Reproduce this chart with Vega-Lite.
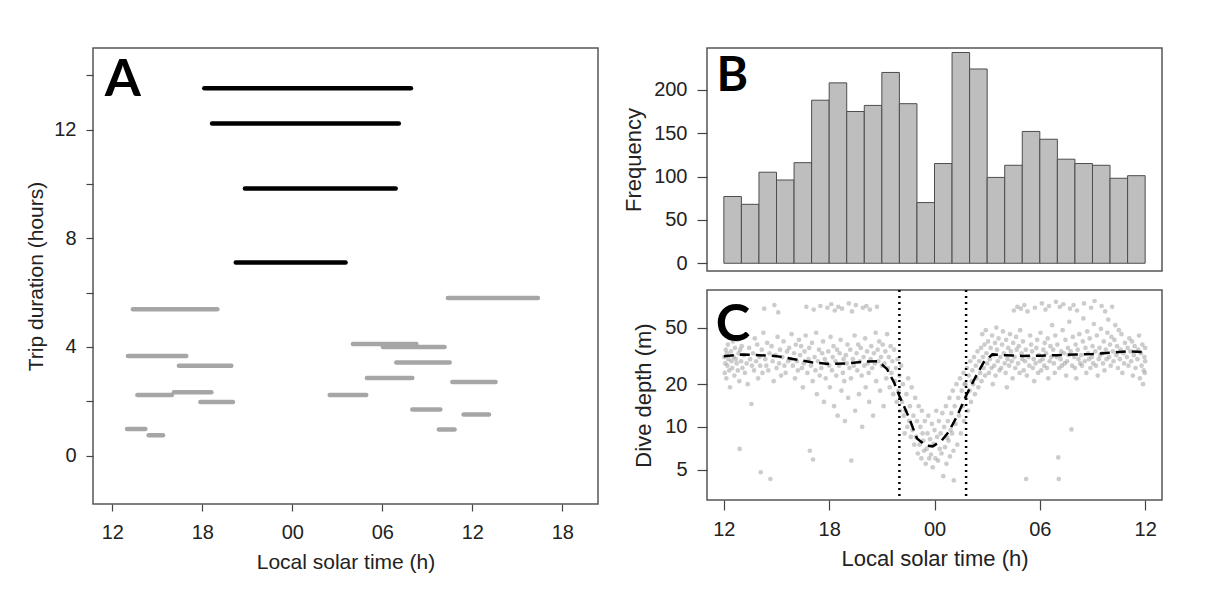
{
  "$schema": "https://vega.github.io/schema/vega-lite/v6.json",
  "background": "white",
  "padding": {"left": 25, "top": 47, "right": 5, "bottom": 5},
  "bounds": "flush",
  "spacing": 109,
  "config": {
    "view": {"stroke": "#555555", "strokeWidth": 1.5},
    "axis": {"grid": false, "domain": false, "tickColor": "#444444", "tickWidth": 1.2, "labelFont": "Liberation Sans", "titleFont": "Liberation Sans", "labelColor": "#222222", "titleColor": "#222222", "titleFontWeight": "normal", "labelFontSize": 20, "titleFontSize": 21, "labelFlush": false, "labelOverlap": false}
  },
  "datasets": {
    "one": [{}],
    "trips": [
      {"start": 18.13, "end": 31.91, "dur": 13.52, "type": "long"},
      {"start": 18.65, "end": 31.1, "dur": 12.22, "type": "long"},
      {"start": 20.84, "end": 30.89, "dur": 9.83, "type": "long"},
      {"start": 20.23, "end": 27.55, "dur": 7.11, "type": "long"},
      {"start": 13.37, "end": 19.0, "dur": 5.39, "type": "short"},
      {"start": 34.37, "end": 40.37, "dur": 5.8, "type": "short"},
      {"start": 13.04, "end": 16.93, "dur": 3.67, "type": "short"},
      {"start": 16.44, "end": 19.93, "dur": 3.31, "type": "short"},
      {"start": 13.67, "end": 15.97, "dur": 2.23, "type": "short"},
      {"start": 16.11, "end": 18.6, "dur": 2.33, "type": "short"},
      {"start": 17.87, "end": 20.04, "dur": 1.97, "type": "short"},
      {"start": 12.98, "end": 14.2, "dur": 0.98, "type": "short"},
      {"start": 14.42, "end": 15.38, "dur": 0.75, "type": "short"},
      {"start": 28.04, "end": 32.27, "dur": 4.11, "type": "short"},
      {"start": 30.04, "end": 34.15, "dur": 4.0, "type": "short"},
      {"start": 30.93, "end": 34.49, "dur": 3.43, "type": "short"},
      {"start": 28.97, "end": 32.0, "dur": 2.86, "type": "short"},
      {"start": 34.67, "end": 37.55, "dur": 2.71, "type": "short"},
      {"start": 26.49, "end": 28.93, "dur": 2.23, "type": "short"},
      {"start": 32.0, "end": 33.87, "dur": 1.7, "type": "short"},
      {"start": 35.42, "end": 37.11, "dur": 1.51, "type": "short"},
      {"start": 33.77, "end": 34.82, "dur": 0.96, "type": "short"}
    ],
    "bars": [
      {"start": 12, "end": 13, "count": 77}, {"start": 13, "end": 14, "count": 68},
      {"start": 14, "end": 15, "count": 105}, {"start": 15, "end": 16, "count": 96},
      {"start": 16, "end": 17, "count": 116}, {"start": 17, "end": 18, "count": 188},
      {"start": 18, "end": 19, "count": 208}, {"start": 19, "end": 20, "count": 175},
      {"start": 20, "end": 21, "count": 182}, {"start": 21, "end": 22, "count": 220},
      {"start": 22, "end": 23, "count": 184}, {"start": 23, "end": 24, "count": 70},
      {"start": 24, "end": 25, "count": 115}, {"start": 25, "end": 26, "count": 243},
      {"start": 26, "end": 27, "count": 224}, {"start": 27, "end": 28, "count": 99},
      {"start": 28, "end": 29, "count": 113}, {"start": 29, "end": 30, "count": 152},
      {"start": 30, "end": 31, "count": 143}, {"start": 31, "end": 32, "count": 120},
      {"start": 32, "end": 33, "count": 115}, {"start": 33, "end": 34, "count": 113},
      {"start": 34, "end": 35, "count": 98}, {"start": 35, "end": 36, "count": 101}
    ],
    "curve": [
      {"t": 12, "d": 31.5}, {"t": 13, "d": 32.3}, {"t": 14, "d": 32.0}, {"t": 15, "d": 31.5},
      {"t": 16, "d": 30.0}, {"t": 17, "d": 28.5}, {"t": 18, "d": 27.7}, {"t": 19, "d": 28.0},
      {"t": 20, "d": 28.8}, {"t": 20.8, "d": 29.0}, {"t": 21.3, "d": 25.5}, {"t": 21.7, "d": 20.5},
      {"t": 22.0, "d": 16.5}, {"t": 22.5, "d": 12.0}, {"t": 23.0, "d": 8.3}, {"t": 23.5, "d": 7.4},
      {"t": 23.9, "d": 7.3}, {"t": 24.4, "d": 8.0}, {"t": 24.8, "d": 9.2}, {"t": 25.3, "d": 12.0},
      {"t": 25.8, "d": 16.6}, {"t": 26.3, "d": 22.0}, {"t": 26.8, "d": 28.5}, {"t": 27.3, "d": 32.4},
      {"t": 28, "d": 32.0}, {"t": 29, "d": 31.6}, {"t": 30, "d": 31.7}, {"t": 31, "d": 32.0},
      {"t": 32, "d": 32.3}, {"t": 33, "d": 32.6}, {"t": 34, "d": 33.3}, {"t": 35, "d": 34.0},
      {"t": 35.9, "d": 33.6}
    ],
    "night": [{"t": 22.0}, {"t": 25.8}],
    "pts": [
      {"t":12.02,"d":31},{"t":12.05,"d":24},{"t":12.08,"d":28},{"t":12.11,"d":35},{"t":12.14,"d":22},{"t":12.17,"d":33},
      {"t":12.2,"d":27},{"t":12.23,"d":38},{"t":12.26,"d":30},{"t":12.31,"d":25},{"t":12.35,"d":19},{"t":12.4,"d":34},
      {"t":12.44,"d":29},{"t":12.48,"d":26},{"t":12.52,"d":40},{"t":12.55,"d":31},{"t":12.6,"d":23},{"t":12.63,"d":36},
      {"t":12.68,"d":30},{"t":12.73,"d":28},{"t":12.77,"d":41},{"t":12.8,"d":25},{"t":12.84,"d":33},{"t":12.88,"d":21},
      {"t":12.9,"d":7},{"t":12.93,"d":35},{"t":12.98,"d":29},{"t":13.02,"d":37},{"t":13.06,"d":26},{"t":13.15,"d":32},
      {"t":13.2,"d":24},{"t":13.24,"d":44},{"t":13.3,"d":28},{"t":13.36,"d":20},{"t":13.44,"d":36},{"t":13.5,"d":30},
      {"t":13.57,"d":14.5},{"t":13.6,"d":27},{"t":13.66,"d":33},{"t":13.72,"d":25},{"t":13.76,"d":42},{"t":13.84,"d":29},
      {"t":13.9,"d":38},{"t":13.95,"d":22},{"t":14.02,"d":31},{"t":14.07,"d":27},{"t":14.1,"d":4.8},{"t":14.16,"d":35},
      {"t":14.2,"d":24},{"t":14.25,"d":46},{"t":14.3,"d":68},{"t":14.36,"d":30},{"t":14.42,"d":27},{"t":14.47,"d":39},
      {"t":14.53,"d":25},{"t":14.6,"d":33},{"t":14.65,"d":4.3},{"t":14.72,"d":37},{"t":14.78,"d":29},{"t":14.84,"d":21},
      {"t":14.88,"d":72},{"t":14.95,"d":32},{"t":15.0,"d":26},{"t":15.06,"d":43},{"t":15.1,"d":64},{"t":15.15,"d":28},
      {"t":15.2,"d":35},{"t":15.26,"d":23},{"t":15.33,"d":31},{"t":15.4,"d":40},{"t":15.45,"d":27},{"t":15.52,"d":24},
      {"t":15.6,"d":34},{"t":15.66,"d":29},{"t":15.72,"d":36},{"t":15.8,"d":30},{"t":15.86,"d":45},{"t":15.93,"d":27},
      {"t":16.0,"d":33},{"t":16.05,"d":22},{"t":16.1,"d":38},{"t":16.16,"d":29},{"t":16.22,"d":25},{"t":16.28,"d":41},
      {"t":16.34,"d":32},{"t":16.4,"d":37},{"t":16.45,"d":26},{"t":16.5,"d":19},{"t":16.55,"d":28},{"t":16.6,"d":34},
      {"t":16.66,"d":44},{"t":16.7,"d":70},{"t":16.76,"d":24},{"t":16.82,"d":30},{"t":16.86,"d":36},{"t":16.9,"d":6.8},
      {"t":16.96,"d":27},{"t":17.02,"d":39},{"t":17.06,"d":21},{"t":17.08,"d":5.9},{"t":17.12,"d":67},{"t":17.17,"d":31},
      {"t":17.22,"d":25},{"t":17.26,"d":46},{"t":17.3,"d":17},{"t":17.36,"d":29},{"t":17.42,"d":35},{"t":17.46,"d":23},
      {"t":17.5,"d":71},{"t":17.55,"d":26},{"t":17.6,"d":33},{"t":17.65,"d":40},{"t":17.7,"d":15},{"t":17.75,"d":30},
      {"t":17.8,"d":22},{"t":17.85,"d":28},{"t":17.9,"d":69},{"t":17.95,"d":34},{"t":18.0,"d":27},{"t":18.04,"d":19},
      {"t":18.08,"d":43},{"t":18.12,"d":73},{"t":18.16,"d":25},{"t":18.2,"d":31},{"t":18.25,"d":37},{"t":18.28,"d":14},
      {"t":18.32,"d":66},{"t":18.36,"d":29},{"t":18.4,"d":23},{"t":18.45,"d":35},{"t":18.48,"d":12},{"t":18.52,"d":70},
      {"t":18.56,"d":27},{"t":18.6,"d":33},{"t":18.65,"d":41},{"t":18.7,"d":18},{"t":18.73,"d":68},{"t":18.78,"d":24},
      {"t":18.82,"d":30},{"t":18.86,"d":21},{"t":18.9,"d":11},{"t":18.95,"d":32},{"t":19.0,"d":28},{"t":19.04,"d":38},
      {"t":19.08,"d":16},{"t":19.12,"d":74},{"t":19.16,"d":26},{"t":19.2,"d":35},{"t":19.24,"d":22},{"t":19.26,"d":5.8},
      {"t":19.3,"d":65},{"t":19.35,"d":30},{"t":19.4,"d":27},{"t":19.45,"d":44},{"t":19.48,"d":13},{"t":19.52,"d":72},
      {"t":19.56,"d":33},{"t":19.6,"d":25},{"t":19.65,"d":38},{"t":19.7,"d":17},{"t":19.75,"d":29},{"t":19.8,"d":36},
      {"t":19.85,"d":23},{"t":19.88,"d":10},{"t":19.92,"d":69},{"t":19.96,"d":31},{"t":20.0,"d":27},{"t":20.05,"d":42},
      {"t":20.08,"d":19},{"t":20.12,"d":71},{"t":20.16,"d":34},{"t":20.2,"d":28},{"t":20.25,"d":24},{"t":20.28,"d":15},
      {"t":20.32,"d":67},{"t":20.36,"d":30},{"t":20.4,"d":37},{"t":20.45,"d":26},{"t":20.5,"d":12},{"t":20.55,"d":33},
      {"t":20.6,"d":28},{"t":20.65,"d":46},{"t":20.68,"d":21},{"t":20.72,"d":70},{"t":20.76,"d":35},{"t":20.8,"d":29},
      {"t":20.85,"d":40},{"t":20.9,"d":18},{"t":20.95,"d":31},{"t":21.0,"d":27},{"t":21.05,"d":38},{"t":21.1,"d":14},
      {"t":21.15,"d":28},{"t":21.2,"d":34},{"t":21.25,"d":22},{"t":21.3,"d":45},{"t":21.35,"d":26},{"t":21.4,"d":31},
      {"t":21.45,"d":19},{"t":21.5,"d":37},{"t":21.55,"d":24},{"t":21.6,"d":29},{"t":21.65,"d":17},{"t":21.7,"d":35},
      {"t":21.75,"d":21},{"t":21.8,"d":26},{"t":21.85,"d":15},{"t":21.9,"d":30},{"t":21.95,"d":18},{"t":22.0,"d":23},
      {"t":22.05,"d":13},{"t":22.1,"d":27},{"t":22.15,"d":15},{"t":22.2,"d":20},{"t":22.25,"d":12},{"t":22.3,"d":9},
      {"t":22.35,"d":13},{"t":22.4,"d":17},{"t":22.45,"d":10},{"t":22.5,"d":22},{"t":22.55,"d":11},{"t":22.6,"d":14},
      {"t":22.65,"d":8.5},{"t":22.7,"d":19},{"t":22.75,"d":9.5},{"t":22.8,"d":12},{"t":22.85,"d":7.5},{"t":22.9,"d":16},
      {"t":22.95,"d":8.5},{"t":23.0,"d":11},{"t":23.05,"d":6.5},{"t":23.1,"d":14},{"t":23.15,"d":7.5},{"t":23.2,"d":10},
      {"t":23.25,"d":6},{"t":23.28,"d":13},{"t":23.32,"d":9},{"t":23.36,"d":8},{"t":23.4,"d":6.8},{"t":23.45,"d":11},
      {"t":23.5,"d":5.5},{"t":23.55,"d":7},{"t":23.6,"d":9},{"t":23.65,"d":12},{"t":23.7,"d":6},{"t":23.75,"d":8.2},
      {"t":23.8,"d":6.4},{"t":23.85,"d":10.5},{"t":23.9,"d":5.2},{"t":23.95,"d":7.6},{"t":24.0,"d":9.5},{"t":24.05,"d":6},
      {"t":24.1,"d":13},{"t":24.15,"d":8.5},{"t":24.2,"d":5.8},{"t":24.25,"d":11},{"t":24.3,"d":7},{"t":24.35,"d":9},
      {"t":24.4,"d":6.5},{"t":24.45,"d":12.5},{"t":24.5,"d":4.5},{"t":24.55,"d":10},{"t":24.6,"d":7.2},{"t":24.65,"d":14},
      {"t":24.68,"d":5.5},{"t":24.72,"d":8.4},{"t":24.76,"d":11},{"t":24.8,"d":8},{"t":24.85,"d":16},{"t":24.88,"d":6.2},
      {"t":24.92,"d":9.5},{"t":24.96,"d":12.5},{"t":25.0,"d":9},{"t":25.04,"d":18},{"t":25.08,"d":6.8},{"t":25.1,"d":4.2},
      {"t":25.15,"d":14},{"t":25.2,"d":10.5},{"t":25.25,"d":20},{"t":25.3,"d":7.5},{"t":25.35,"d":16},{"t":25.4,"d":12},
      {"t":25.45,"d":22},{"t":25.5,"d":9},{"t":25.55,"d":18},{"t":25.6,"d":14},{"t":25.65,"d":24},{"t":25.68,"d":11},
      {"t":25.72,"d":20},{"t":25.76,"d":20},{"t":25.8,"d":16},{"t":25.85,"d":26},{"t":25.9,"d":13},{"t":25.95,"d":23},
      {"t":26.0,"d":18},{"t":26.04,"d":29},{"t":26.08,"d":15},{"t":26.12,"d":21},{"t":26.16,"d":25},{"t":26.2,"d":20},
      {"t":26.25,"d":31},{"t":26.3,"d":17},{"t":26.35,"d":27},{"t":26.4,"d":22},{"t":26.45,"d":34},{"t":26.5,"d":19},
      {"t":26.55,"d":29},{"t":26.6,"d":24},{"t":26.65,"d":36},{"t":26.68,"d":21},{"t":26.72,"d":45},{"t":26.76,"d":31},
      {"t":26.8,"d":26},{"t":26.85,"d":38},{"t":26.88,"d":23},{"t":26.92,"d":48},{"t":26.96,"d":33},{"t":27.0,"d":28},
      {"t":27.05,"d":40},{"t":27.1,"d":24},{"t":27.15,"d":30},{"t":27.2,"d":36},{"t":27.25,"d":26},{"t":27.28,"d":44},
      {"t":27.32,"d":20},{"t":27.36,"d":32},{"t":27.4,"d":27},{"t":27.45,"d":39},{"t":27.48,"d":23},{"t":27.52,"d":50},
      {"t":27.56,"d":35},{"t":27.6,"d":29},{"t":27.65,"d":42},{"t":27.7,"d":25},{"t":27.75,"d":31},{"t":27.8,"d":26},
      {"t":27.85,"d":38},{"t":27.9,"d":47},{"t":27.95,"d":33},{"t":28.0,"d":28},{"t":28.05,"d":24},{"t":28.08,"d":41},
      {"t":28.12,"d":19},{"t":28.16,"d":30},{"t":28.2,"d":36},{"t":28.25,"d":27},{"t":28.3,"d":45},{"t":28.35,"d":34},
      {"t":28.4,"d":29},{"t":28.45,"d":22},{"t":28.48,"d":39},{"t":28.52,"d":66},{"t":28.56,"d":31},{"t":28.6,"d":26},
      {"t":28.65,"d":43},{"t":28.68,"d":35},{"t":28.72,"d":70},{"t":28.76,"d":28},{"t":28.8,"d":37},{"t":28.85,"d":24},
      {"t":28.88,"d":48},{"t":28.92,"d":68},{"t":28.96,"d":33},{"t":29.0,"d":30},{"t":29.04,"d":40},{"t":29.08,"d":25},
      {"t":29.12,"d":72},{"t":29.16,"d":29},{"t":29.2,"d":35},{"t":29.22,"d":4.3},{"t":29.26,"d":23},{"t":29.3,"d":65},
      {"t":29.36,"d":31},{"t":29.4,"d":27},{"t":29.45,"d":44},{"t":29.5,"d":38},{"t":29.56,"d":34},{"t":29.6,"d":26},
      {"t":29.65,"d":30},{"t":29.68,"d":21},{"t":29.72,"d":69},{"t":29.76,"d":28},{"t":29.8,"d":36},{"t":29.85,"d":41},
      {"t":29.9,"d":24},{"t":29.95,"d":32},{"t":30.0,"d":29},{"t":30.04,"d":46},{"t":30.08,"d":25},{"t":30.12,"d":74},
      {"t":30.16,"d":30},{"t":30.2,"d":35},{"t":30.25,"d":27},{"t":30.28,"d":39},{"t":30.32,"d":67},{"t":30.36,"d":33},
      {"t":30.4,"d":26},{"t":30.45,"d":42},{"t":30.48,"d":22},{"t":30.52,"d":71},{"t":30.56,"d":29},{"t":30.6,"d":37},
      {"t":30.65,"d":31},{"t":30.7,"d":52},{"t":30.76,"d":35},{"t":30.8,"d":28},{"t":30.85,"d":24},{"t":30.88,"d":44},
      {"t":30.92,"d":76},{"t":30.96,"d":31},{"t":31.0,"d":38},{"t":31.05,"d":6.1},{"t":31.08,"d":4.3},{"t":31.1,"d":26},
      {"t":31.14,"d":70},{"t":31.18,"d":30},{"t":31.22,"d":34},{"t":31.26,"d":27},{"t":31.3,"d":48},{"t":31.34,"d":73},
      {"t":31.38,"d":33},{"t":31.42,"d":28},{"t":31.46,"d":41},{"t":31.5,"d":23},{"t":31.55,"d":29},{"t":31.6,"d":36},
      {"t":31.64,"d":32},{"t":31.68,"d":55},{"t":31.72,"d":68},{"t":31.76,"d":34},{"t":31.8,"d":9.6},{"t":31.84,"d":27},
      {"t":31.88,"d":43},{"t":31.92,"d":72},{"t":31.96,"d":31},{"t":32.0,"d":26},{"t":32.04,"d":38},{"t":32.08,"d":22},
      {"t":32.12,"d":66},{"t":32.16,"d":35},{"t":32.2,"d":30},{"t":32.25,"d":45},{"t":32.3,"d":28},{"t":32.36,"d":32},
      {"t":32.4,"d":27},{"t":32.45,"d":40},{"t":32.48,"d":58},{"t":32.52,"d":74},{"t":32.56,"d":29},{"t":32.6,"d":36},
      {"t":32.65,"d":24},{"t":32.7,"d":47},{"t":32.76,"d":33},{"t":32.8,"d":30},{"t":32.84,"d":42},{"t":32.88,"d":26},
      {"t":32.92,"d":69},{"t":32.96,"d":31},{"t":33.0,"d":37},{"t":33.04,"d":28},{"t":33.08,"d":53},{"t":33.12,"d":77},
      {"t":33.16,"d":34},{"t":33.2,"d":27},{"t":33.25,"d":44},{"t":33.3,"d":23},{"t":33.36,"d":30},{"t":33.4,"d":36},
      {"t":33.44,"d":32},{"t":33.48,"d":49},{"t":33.52,"d":71},{"t":33.56,"d":33},{"t":33.6,"d":28},{"t":33.64,"d":40},
      {"t":33.68,"d":25},{"t":33.72,"d":65},{"t":33.76,"d":35},{"t":33.8,"d":30},{"t":33.85,"d":46},{"t":33.9,"d":57},
      {"t":33.95,"d":31},{"t":34.0,"d":38},{"t":34.04,"d":27},{"t":34.08,"d":43},{"t":34.12,"d":70},{"t":34.16,"d":34},
      {"t":34.2,"d":29},{"t":34.25,"d":41},{"t":34.3,"d":52},{"t":34.36,"d":32},{"t":34.4,"d":37},{"t":34.45,"d":26},
      {"t":34.5,"d":48},{"t":34.56,"d":30},{"t":34.6,"d":35},{"t":34.65,"d":45},{"t":34.7,"d":24},{"t":34.76,"d":33},
      {"t":34.8,"d":28},{"t":34.85,"d":39},{"t":34.96,"d":31},{"t":35.0,"d":36},{"t":35.05,"d":27},{"t":35.1,"d":42},
      {"t":35.16,"d":34},{"t":35.2,"d":29},{"t":35.25,"d":40},{"t":35.3,"d":23},{"t":35.36,"d":32},{"t":35.4,"d":37},
      {"t":35.45,"d":26},{"t":35.56,"d":30},{"t":35.6,"d":35},{"t":35.65,"d":44},{"t":35.7,"d":22},{"t":35.76,"d":33},
      {"t":35.8,"d":27},{"t":35.84,"d":38},{"t":35.88,"d":20},{"t":35.92,"d":25},{"t":35.96,"d":31},{"t":36.0,"d":36},
      {"t":35.98,"d":24},{"t":36.0,"d":29}
    ]
  },
  "hconcat": [
    {
      "width": 505,
      "height": 456,
      "layer": [
        {
          "data": {"name": "trips"},
          "mark": {"type": "rule", "strokeWidth": 4.5, "strokeCap": "round"},
          "encoding": {
            "x": {"field": "start", "type": "quantitative",
              "scale": {"domain": [10.71, 44.38], "nice": false, "zero": false},
              "axis": {"values": [12, 18, 24, 30, 36, 42], "labelExpr": "(datum.value % 24 < 10 ? '0' : '') + (datum.value % 24)", "title": "Local solar time (h)", "tickSize": 7, "labelPadding": 11, "titlePadding": 9}},
            "x2": {"field": "end"},
            "y": {"field": "dur", "type": "quantitative",
              "scale": {"domain": [-1.78, 15.0], "nice": false, "zero": false},
              "axis": {"values": [0, 2, 4, 6, 8, 10, 12, 14], "labelExpr": "datum.value % 4 === 0 ? datum.label : ''", "title": "Trip duration (hours)", "tickSize": 7, "labelPadding": 10, "titlePadding": 7}},
            "color": {"field": "type", "type": "nominal", "scale": {"domain": ["long", "short"], "range": ["#000000", "#a6a6a6"]}, "legend": null}
          }
        },
        {
          "data": {"name": "one"},
          "mark": {"type": "text", "text": "A", "font": "Lato", "fontWeight": "bold", "fontSize": 52, "align": "left", "baseline": "alphabetic", "color": "#000000"},
          "encoding": {"x": {"datum": 11.49}, "y": {"datum": 13.24}}
        }
      ]
    },
    {
      "bounds": "flush",
      "spacing": 19,
      "vconcat": [
        {
          "width": 455,
          "height": 223,
          "layer": [
            {
              "data": {"name": "bars"},
              "mark": {"type": "rect", "fill": "#bebebe", "stroke": "#4d4d4d", "strokeWidth": 1},
              "encoding": {
                "x": {"field": "start", "type": "quantitative", "scale": {"domain": [11.04, 36.96], "nice": false, "zero": false}, "axis": null},
                "x2": {"field": "end"},
                "y": {"field": "count", "type": "quantitative", "scale": {"domain": [-8.9, 248.2], "nice": false, "zero": false},
                  "axis": {"values": [0, 50, 100, 150, 200], "title": "Frequency", "tickSize": 10, "labelPadding": 10, "titlePadding": 8, "titleFontSize": 22}},
                "y2": {"datum": 0}
              }
            },
            {
              "data": {"name": "one"},
              "mark": {"type": "text", "text": "B", "font": "Lato", "fontWeight": "bold", "fontSize": 48, "align": "left", "baseline": "alphabetic", "color": "#000000"},
              "encoding": {"x": {"datum": 11.58}, "y": {"datum": 198.6}}
            }
          ]
        },
        {
          "width": 455,
          "height": 210,
          "layer": [
            {
              "data": {"name": "pts"},
              "mark": {"type": "circle", "size": 22, "color": "#999999", "opacity": 0.5},
              "encoding": {
                "x": {"field": "t", "type": "quantitative", "scale": {"domain": [11.04, 36.96], "nice": false, "zero": false},
                  "axis": {"values": [12, 18, 24, 30, 36], "labelExpr": "(datum.value % 24 < 10 ? '0' : '') + (datum.value % 24)", "title": "Local solar time (h)", "tickSize": 10, "labelPadding": 9, "titlePadding": 9, "titleFontSize": 22}},
                "y": {"field": "d", "type": "quantitative", "scale": {"type": "log", "domain": [3.06, 92], "nice": false, "zero": false},
                  "axis": {"values": [5, 10, 20, 50], "title": "Dive depth (m)", "tickSize": 10, "labelPadding": 10, "titlePadding": 9, "titleFontSize": 22}}
              }
            },
            {
              "data": {"name": "curve"},
              "mark": {"type": "line", "color": "#000000", "strokeWidth": 2.5, "strokeDash": [10, 6]},
              "encoding": {"x": {"field": "t", "type": "quantitative"}, "y": {"field": "d", "type": "quantitative"}}
            },
            {
              "data": {"name": "night"},
              "mark": {"type": "rule", "color": "#000000", "strokeWidth": 2.5, "strokeDash": [2, 4]},
              "encoding": {"x": {"field": "t", "type": "quantitative"}}
            },
            {
              "data": {"name": "one"},
              "mark": {"type": "text", "text": "C", "font": "Lato", "fontWeight": "bold", "fontSize": 52, "align": "left", "baseline": "alphabetic", "color": "#000000"},
              "encoding": {"x": {"datum": 11.54}, "y": {"datum": 40.4}}
            }
          ]
        }
      ]
    }
  ]
}
